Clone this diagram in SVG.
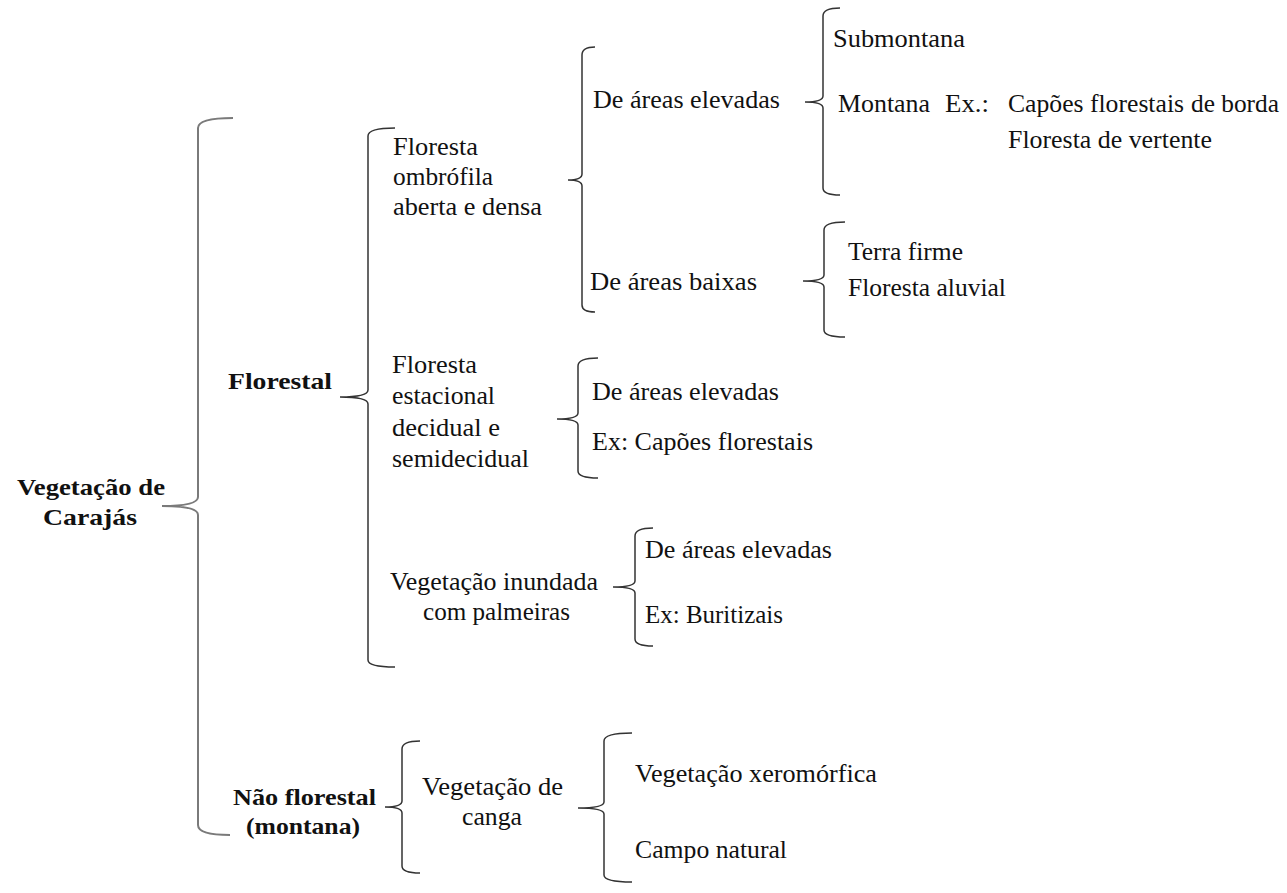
<svg xmlns="http://www.w3.org/2000/svg" width="1287" height="893" viewBox="0 0 1287 893" font-family="'Liberation Serif', 'Times New Roman', serif">
<style>
text{font-family:'Liberation Serif','Times New Roman',serif;font-size:25.5px;fill:#111}
.b{font-weight:bold;font-size:24px}
.br{fill:none;stroke:#333;stroke-width:1.5}
.bm{fill:none;stroke:#7a7a7a;stroke-width:2}
</style>
<rect width="1287" height="893" fill="#fff"/>
<g id="connectors">
<path class="bm" d="M233,118 Q198,118 198,128 L198,497 Q198,506 162,506 Q198,506 198,515 L198,825 Q198,835 230,835"/>
<path class="br" d="M395,128 Q368,128 368,136 L368,390 Q368,397 340,397 Q368,397 368,404 L368,660 Q368,667 395,667"/>
<path class="br" d="M595,47 Q582,47 582,55 L582,174 Q582,180 568,180 Q582,180 582,186 L582,305 Q582,312 595,312"/>
<path class="br" d="M840,8 Q823,8 823,16 L823,96 Q823,102 805,102 Q823,102 823,108 L823,188 Q823,195 840,195"/>
<path class="br" d="M845,222 Q824,222 824,230 L824,275 Q824,281 803,281 Q824,281 824,287 L824,330 Q824,337 845,337"/>
<path class="br" d="M598,358 Q578,358 578,366 L578,413 Q578,419 557,419 Q578,419 578,425 L578,471 Q578,478 598,478"/>
<path class="br" d="M653,528 Q635,528 635,536 L635,581 Q635,587 613,587 Q635,587 635,593 L635,639 Q635,646 653,646"/>
<path class="br" d="M420,741 Q402,741 402,749 L402,801 Q402,807 385,807 Q402,807 402,813 L402,866 Q402,873 420,873"/>
<path class="br" d="M632,733 Q604,733 604,741 L604,802 Q604,808 578,808 Q604,808 604,814 L604,875 Q604,882 632,882"/>
</g>
<g id="root"><text class="b" x="17" y="495" textLength="148" lengthAdjust="spacingAndGlyphs">Vegetação de</text><text class="b" x="43" y="525" textLength="94" lengthAdjust="spacingAndGlyphs">Carajás</text></g>
<g id="florestal"><text class="b" x="228" y="389" textLength="104" lengthAdjust="spacingAndGlyphs">Florestal</text></g>
<g id="naoflorestal"><text class="b" x="233" y="805" textLength="143" lengthAdjust="spacingAndGlyphs">Não florestal</text><text class="b" x="246" y="834" textLength="114" lengthAdjust="spacingAndGlyphs">(montana)</text></g>
<g id="ombrofila"><text x="393" y="155" textLength="85" lengthAdjust="spacingAndGlyphs">Floresta</text><text x="393" y="185" textLength="100" lengthAdjust="spacingAndGlyphs">ombrófila</text><text x="393" y="215" textLength="149" lengthAdjust="spacingAndGlyphs">aberta e densa</text></g>
<g id="elevadas1"><text x="593" y="108" textLength="187" lengthAdjust="spacingAndGlyphs">De áreas elevadas</text></g>
<g id="baixas"><text x="590" y="290" textLength="167" lengthAdjust="spacingAndGlyphs">De áreas baixas</text></g>
<g id="submontana"><text x="833" y="47" textLength="132" lengthAdjust="spacingAndGlyphs">Submontana</text></g>
<g id="montana"><text x="838" y="112" textLength="92" lengthAdjust="spacingAndGlyphs">Montana</text><text x="945" y="112" textLength="44" lengthAdjust="spacingAndGlyphs">Ex.:</text><text x="1008" y="112" textLength="176" lengthAdjust="spacingAndGlyphs">Capões florestais</text><text x="1191" y="112" textLength="88" lengthAdjust="spacingAndGlyphs">de borda</text><text x="1008" y="148" textLength="204" lengthAdjust="spacingAndGlyphs">Floresta de vertente</text></g>
<g id="terrafirme"><text x="848" y="260">Terra firme</text></g>
<g id="aluvial"><text x="848" y="296">Floresta aluvial</text></g>
<g id="estacional"><text x="392" y="373" textLength="85" lengthAdjust="spacingAndGlyphs">Floresta</text><text x="392" y="404" textLength="103" lengthAdjust="spacingAndGlyphs">estacional</text><text x="392" y="436" textLength="108" lengthAdjust="spacingAndGlyphs">decidual e</text><text x="392" y="467" textLength="137" lengthAdjust="spacingAndGlyphs">semidecidual</text></g>
<g id="elevadas2"><text x="592" y="400" textLength="187" lengthAdjust="spacingAndGlyphs">De áreas elevadas</text></g>
<g id="capoes"><text x="592" y="450" textLength="221" lengthAdjust="spacingAndGlyphs">Ex: Capões florestais</text></g>
<g id="inundada"><text x="390" y="590" textLength="208" lengthAdjust="spacingAndGlyphs">Vegetação inundada</text><text x="423" y="620" textLength="147" lengthAdjust="spacingAndGlyphs">com palmeiras</text></g>
<g id="elevadas3"><text x="645" y="558" textLength="187" lengthAdjust="spacingAndGlyphs">De áreas elevadas</text></g>
<g id="buritizais"><text x="645" y="623" textLength="138" lengthAdjust="spacingAndGlyphs">Ex: Buritizais</text></g>
<g id="canga"><text x="422" y="795" textLength="141" lengthAdjust="spacingAndGlyphs">Vegetação de</text><text x="462" y="825" textLength="60" lengthAdjust="spacingAndGlyphs">canga</text></g>
<g id="xeromorfica"><text x="635" y="782" textLength="242" lengthAdjust="spacingAndGlyphs">Vegetação xeromórfica</text></g>
<g id="campo"><text x="635" y="858" textLength="152" lengthAdjust="spacingAndGlyphs">Campo natural</text></g>
</svg>
